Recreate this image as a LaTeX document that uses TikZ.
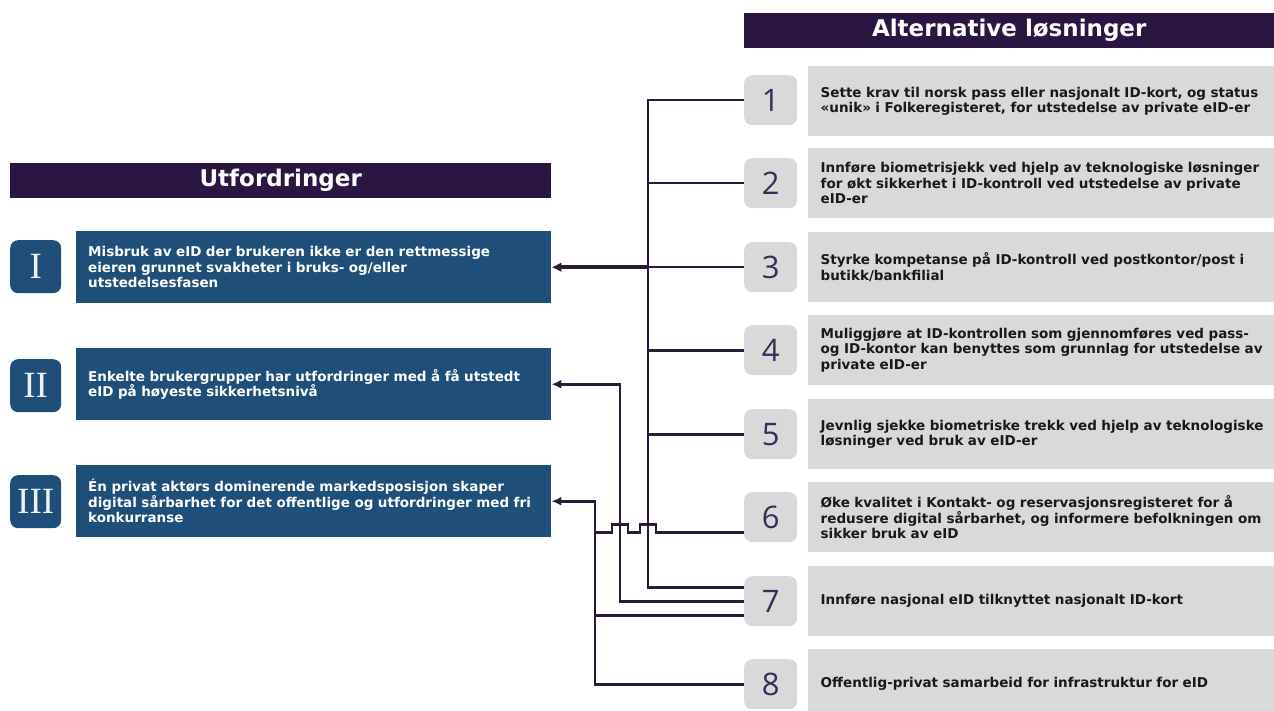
\documentclass[tikz,border=0pt]{standalone}
\usepackage{fontspec}
\setmainfont{DejaVu Sans}
\newfontfamily\numfont{Open Sans}
\newfontfamily\romfont{Liberation Serif}
\usetikzlibrary{arrows.meta,calc}
\definecolor{barpurple}{HTML}{2A1640}
\definecolor{boxblue}{HTML}{1F4E79}
\definecolor{boxgray}{HTML}{D9D9D9}
\definecolor{linepurple}{HTML}{2A1B3D}
\definecolor{digitpurple}{HTML}{3A2C58}
\begin{document}
\begin{tikzpicture}[x=1pt,y=-1pt,
  header/.style={fill=barpurple, text=white, anchor=north west, inner sep=0pt,
    minimum height=35pt, font=\bfseries\fontsize{23}{26}\selectfont},
  challenge/.style={fill=boxblue, text=white, anchor=north west, inner xsep=12pt,
    inner ysep=0pt, text width=451pt, minimum height=72pt, align=left,
    font=\bfseries\fontsize{13.5}{15.4}\selectfont},
  romanbox/.style={fill=boxblue, rounded corners=8pt, anchor=north west, inner sep=0pt,
    minimum width=51pt, minimum height=53pt, text=white!92!boxblue,
    font=\romfont\fontsize{37}{37}\selectfont},
  % the grey solution boxes run on past the right edge of the page
  solution/.style={fill=boxgray, text=black!90, anchor=north west, inner xsep=12.5pt,
    inner ysep=0pt, text width=475pt, minimum height=70pt, align=left,
    font=\bfseries\fontsize{13.5}{15.4}\selectfont},
  numbox/.style={fill=boxgray, rounded corners=8pt, anchor=north west, inner sep=0pt,
    minimum width=53pt, minimum height=50pt, text=digitpurple,
    font=\numfont\fontsize{31}{31}\selectfont},
  conn/.style={draw=linepurple, line width=2.6pt},
  arrowconn/.style={conn, -{Latex[length=10pt,width=9pt]}},
  mainarrow/.style={draw=linepurple, line width=4pt, -{Latex[length=10pt,width=10pt]}}
]
\useasboundingbox (0,0) rectangle (1274,711);

% headings
\node[header, minimum width=530pt] (hsol) at (744,13) {Alternative løsninger};
\node[header, minimum width=541pt] (hch) at (10,163) {Utfordringer};

% challenges
\node[romanbox] (rI) at (10,240) {I};
\node[romanbox] (rII) at (10,359) {II};
\node[romanbox] (rIII) at (10,475) {III};
\node[challenge] (cI) at (76,231) {Misbruk av eID der brukeren ikke er den rettmessige\\eieren grunnet svakheter i bruks- og/eller\\utstedelsesfasen};
\node[challenge] (cII) at (76,348) {Enkelte brukergrupper har utfordringer med å få utstedt\\eID på høyeste sikkerhetsnivå};
\node[challenge] (cIII) at (76,465) {Én privat aktørs dominerende markedsposisjon skaper\\digital sårbarhet for det offentlige og utfordringer med fri\\konkurranse};

% solutions
\node[numbox] (n1) at (744,75) {1};
\node[numbox] (n2) at (744,158) {2};
\node[numbox] (n3) at (744,242) {3};
\node[numbox] (n4) at (744,325) {4};
\node[numbox] (n5) at (744,409) {5};
\node[numbox] (n6) at (744,492) {6};
\node[numbox] (n7) at (744,576) {7};
\node[numbox] (n8) at (744,659) {8};

\node[solution] (s1) at (808,66) {Sette krav til norsk pass eller nasjonalt ID-kort, og status\\«unik» i Folkeregisteret, for utstedelse av private eID-er};
\node[solution] (s2) at (808,148) {Innføre biometrisjekk ved hjelp av teknologiske løsninger\\for økt sikkerhet i ID-kontroll ved utstedelse av private\\eID-er};
\node[solution] (s3) at (808,232) {Styrke kompetanse på ID-kontroll ved postkontor/post i\\butikk/bankfilial};
\node[solution] (s4) at (808,315) {Muliggjøre at ID-kontrollen som gjennomføres ved pass-\\og ID-kontor kan benyttes som grunnlag for utstedelse av\\private eID-er};
\node[solution] (s5) at (808,399) {Jevnlig sjekke biometriske trekk ved hjelp av teknologiske\\løsninger ved bruk av eID-er};
\node[solution] (s6) at (808,482) {Øke kvalitet i Kontakt- og reservasjonsregisteret for å\\redusere digital sårbarhet, og informere befolkningen om\\sikker bruk av eID};
\node[solution] (s7) at (808,566) {Innføre nasjonal eID tilknyttet nasjonalt ID-kort};
\node[solution] (s8) at (808,649) {Offentlig-privat samarbeid for infrastruktur for eID};

% vertical buses
\coordinate (busA) at (648,0);
\coordinate (busB) at (620,0);
\coordinate (busC) at (595,0);
\coordinate (e6) at ([yshift=-15pt]n6.west);
\coordinate (e7a) at ([yshift=14pt]n7.west);
\coordinate (e7c) at ([yshift=-14pt]n7.west);

% bus A: solutions 1-5 and 7 to challenge I
\draw[conn] (n1.west) -- (n1.west -| busA) -- (e7a -| busA) -- (e7a);
\draw[conn] (n2.west) -- (n2.west -| busA);
\draw[conn] (n3.west) -- (n3.west -| busA);
\draw[conn] (n4.west) -- (n4.west -| busA);
\draw[conn] (n5.west) -- (n5.west -| busA);
\draw[mainarrow] (n3.west -| busA) -- (cI.east);

% bus B: solution 7 to challenge II
\draw[arrowconn] (n7.west) -- (n7.west -| busB) |- (cII.east);

% bus C: solutions 6, 7 and 8 to challenge III
\draw[arrowconn] (e7c) -- (e7c -| busC) |- (cIII.east);
\draw[conn] (n8.west) -- (n8.west -| busC) -- (e7c -| busC);
\draw[conn] (e6) -- ($(e6 -| busA)+(8,0)$) -- ++(0,-8) -- ++(-16,0) -- ++(0,8)
  -- ($(e6 -| busB)+(8,0)$) -- ++(0,-8) -- ++(-16,0) -- ++(0,8) -- (e6 -| busC);
\end{tikzpicture}
\end{document}
